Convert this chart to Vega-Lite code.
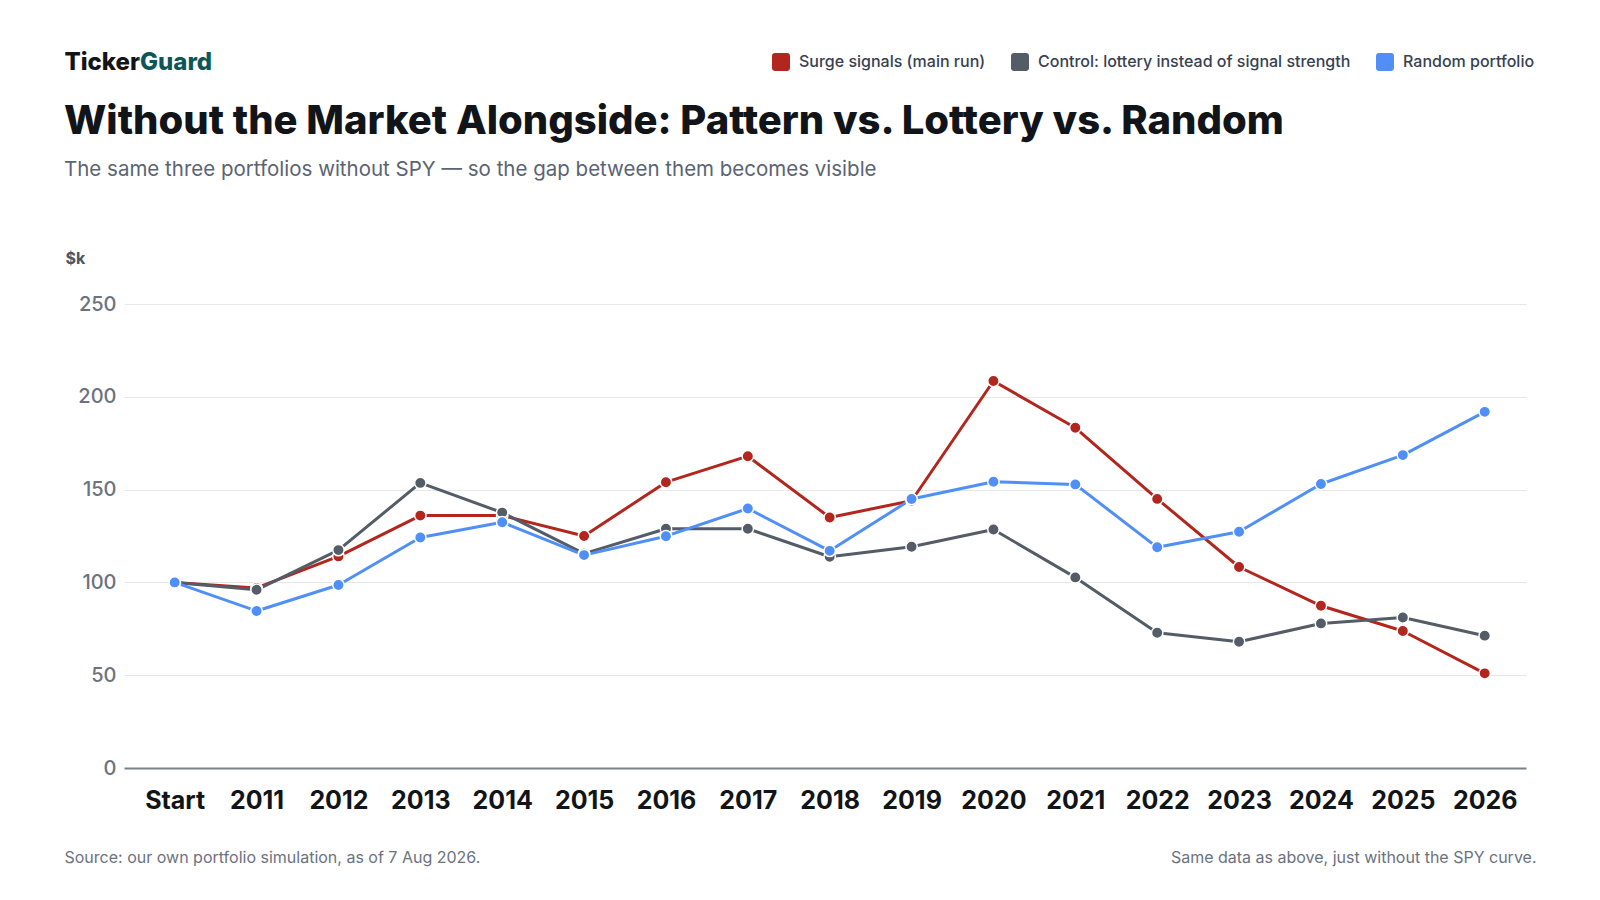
{
  "$schema": "https://vega.github.io/schema/vega-lite/v6.json",
  "width": 1402,
  "height": 464,
  "autosize": {"type": "none"},
  "padding": {"left": 124, "top": 304, "right": 74, "bottom": 132},
  "background": "white",
  "title": {
    "text": "Without the Market Alongside: Pattern vs. Lottery vs. Random",
    "subtitle": "The same three portfolios without SPY — so the gap between them becomes visible",
    "anchor": "start",
    "frame": "group",
    "dx": -60,
    "offset": -130,
    "font": "Inter",
    "fontSize": 40,
    "fontWeight": 800,
    "color": "#111418",
    "subtitleFont": "Inter",
    "subtitleFontSize": 20.5,
    "subtitleColor": "#5b6472",
    "subtitlePadding": 18
  },
  "data": {
    "values": [
      {"period": "Start", "series": "Surge signals (main run)", "value": 100},
      {"period": "2011", "series": "Surge signals (main run)", "value": 97},
      {"period": "2012", "series": "Surge signals (main run)", "value": 114},
      {"period": "2013", "series": "Surge signals (main run)", "value": 136},
      {"period": "2014", "series": "Surge signals (main run)", "value": 136},
      {"period": "2015", "series": "Surge signals (main run)", "value": 125},
      {"period": "2016", "series": "Surge signals (main run)", "value": 154},
      {"period": "2017", "series": "Surge signals (main run)", "value": 168},
      {"period": "2018", "series": "Surge signals (main run)", "value": 135},
      {"period": "2019", "series": "Surge signals (main run)", "value": 144},
      {"period": "2020", "series": "Surge signals (main run)", "value": 208.5},
      {"period": "2021", "series": "Surge signals (main run)", "value": 183.3},
      {"period": "2022", "series": "Surge signals (main run)", "value": 145},
      {"period": "2023", "series": "Surge signals (main run)", "value": 108.3},
      {"period": "2024", "series": "Surge signals (main run)", "value": 87.4},
      {"period": "2025", "series": "Surge signals (main run)", "value": 73.8},
      {"period": "2026", "series": "Surge signals (main run)", "value": 51},
      {"period": "Start", "series": "Control: lottery instead of signal strength", "value": 100},
      {"period": "2011", "series": "Control: lottery instead of signal strength", "value": 96},
      {"period": "2012", "series": "Control: lottery instead of signal strength", "value": 117.4},
      {"period": "2013", "series": "Control: lottery instead of signal strength", "value": 153.6},
      {"period": "2014", "series": "Control: lottery instead of signal strength", "value": 137.6},
      {"period": "2015", "series": "Control: lottery instead of signal strength", "value": 115.5},
      {"period": "2016", "series": "Control: lottery instead of signal strength", "value": 128.9},
      {"period": "2017", "series": "Control: lottery instead of signal strength", "value": 128.9},
      {"period": "2018", "series": "Control: lottery instead of signal strength", "value": 113.8},
      {"period": "2019", "series": "Control: lottery instead of signal strength", "value": 119.2},
      {"period": "2020", "series": "Control: lottery instead of signal strength", "value": 128.5},
      {"period": "2021", "series": "Control: lottery instead of signal strength", "value": 102.7},
      {"period": "2022", "series": "Control: lottery instead of signal strength", "value": 72.9},
      {"period": "2023", "series": "Control: lottery instead of signal strength", "value": 68},
      {"period": "2024", "series": "Control: lottery instead of signal strength", "value": 77.9},
      {"period": "2025", "series": "Control: lottery instead of signal strength", "value": 81.1},
      {"period": "2026", "series": "Control: lottery instead of signal strength", "value": 71.3},
      {"period": "Start", "series": "Random portfolio", "value": 100},
      {"period": "2011", "series": "Random portfolio", "value": 84.6},
      {"period": "2012", "series": "Random portfolio", "value": 98.6},
      {"period": "2013", "series": "Random portfolio", "value": 124.2},
      {"period": "2014", "series": "Random portfolio", "value": 132.4},
      {"period": "2015", "series": "Random portfolio", "value": 114.7},
      {"period": "2016", "series": "Random portfolio", "value": 124.9},
      {"period": "2017", "series": "Random portfolio", "value": 139.8},
      {"period": "2018", "series": "Random portfolio", "value": 117},
      {"period": "2019", "series": "Random portfolio", "value": 144.9},
      {"period": "2020", "series": "Random portfolio", "value": 154.2},
      {"period": "2021", "series": "Random portfolio", "value": 152.8},
      {"period": "2022", "series": "Random portfolio", "value": 118.9},
      {"period": "2023", "series": "Random portfolio", "value": 127.3},
      {"period": "2024", "series": "Random portfolio", "value": 153},
      {"period": "2025", "series": "Random portfolio", "value": 168.6},
      {"period": "2026", "series": "Random portfolio", "value": 191.9}
    ]
  },
  "encoding": {
    "color": {
      "field": "series",
      "type": "nominal",
      "scale": {
        "domain": ["Surge signals (main run)", "Control: lottery instead of signal strength", "Random portfolio"],
        "range": ["#b3261e", "#535c67", "#4f8ff7"]
      },
      "legend": {
        "orient": "none",
        "legendX": 648,
        "legendY": -251,
        "direction": "horizontal",
        "title": null,
        "symbolType": "M -0.65,-1 H 0.65 Q 1,-1 1,-0.65 V 0.65 Q 1,1 0.65,1 H -0.65 Q -1,1 -1,0.65 V -0.65 Q -1,-1 -0.65,-1 Z",
        "symbolSize": 324,
        "symbolOpacity": 1,
        "labelFont": "Inter",
        "labelFontSize": 16,
        "labelFontWeight": 500,
        "labelColor": "#374151",
        "labelOffset": 9,
        "labelLimit": 0,
        "columnPadding": 25,
        "encode": {
          "symbols": {
            "update": {
              "fill": {"scale": "color", "field": "value"},
              "stroke": {"value": "transparent"},
              "strokeWidth": {"value": 0}
            }
          }
        }
      }
    }
  },
  "layer": [
    {
      "mark": {"type": "line", "strokeWidth": 3, "strokeJoin": "round"},
      "encoding": {
        "x": {
          "field": "period",
          "type": "ordinal",
          "sort": null,
          "scale": {"type": "point", "padding": 0.5618, "align": 0.551},
          "axis": {
            "orient": "bottom",
            "domain": false,
            "ticks": false,
            "grid": false,
            "labelAngle": 0,
            "labelFont": "Inter",
            "labelFontSize": 25,
            "labelFontWeight": 700,
            "labelColor": "#111418",
            "labelPadding": 20,
            "title": "Source: our own portfolio simulation, as of 7 Aug 2026.",
            "titleX": -60,
            "titleY": 89,
            "titleAlign": "left",
            "titleBaseline": "middle",
            "titleFont": "Inter",
            "titleFontSize": 16,
            "titleFontWeight": 400,
            "titleColor": "#6b7280"
          }
        },
        "y": {
          "field": "value",
          "type": "quantitative",
          "scale": {"domain": [0, 250]},
          "axis": {
            "orient": "left",
            "values": [0, 50, 100, 150, 200, 250],
            "domain": false,
            "ticks": false,
            "grid": true,
            "gridColor": {"condition": {"test": "datum.value === 0", "value": "#7a8088"}, "value": "#e6e7e9"},
            "gridWidth": {"condition": {"test": "datum.value === 0", "value": 2}, "value": 1},
            "labelFont": "Inter",
            "labelFontSize": 20,
            "labelFontWeight": 500,
            "labelColor": "#6b7280",
            "labelPadding": 8,
            "title": "$k",
            "titleAngle": 0,
            "titleX": -59,
            "titleY": -46,
            "titleAlign": "left",
            "titleBaseline": "middle",
            "titleFont": "Inter",
            "titleFontSize": 16,
            "titleFontWeight": 700,
            "titleColor": "#4b5563"
          }
        }
      }
    },
    {
      "mark": {"type": "point", "filled": true, "size": 130, "opacity": 1, "stroke": "white", "strokeWidth": 1.5},
      "encoding": {
        "x": {
          "field": "period",
          "type": "ordinal",
          "sort": null,
          "scale": {"type": "point", "padding": 0.5618, "align": 0.551},
          "axis": {
            "orient": "top",
            "domain": false,
            "ticks": false,
            "labels": false,
            "grid": false,
            "title": "TickerGuard",
            "titleX": -60,
            "titleY": -242,
            "titleAlign": "left",
            "titleBaseline": "middle",
            "titleFont": "Inter",
            "titleFontSize": 24,
            "titleFontWeight": 800,
            "titleColor": {"value": {"gradient": "linear", "x1": 0, "x2": 1, "y1": 0, "y2": 0, "stops": [
              {"offset": 0, "color": "#111418"},
              {"offset": 0.5, "color": "#111418"},
              {"offset": 0.5, "color": "#0e5558"},
              {"offset": 1, "color": "#0e5558"}
            ]}}
          }
        },
        "y": {
          "field": "value",
          "type": "quantitative",
          "scale": {"domain": [0, 250]},
          "axis": {
            "orient": "right",
            "domain": false,
            "ticks": false,
            "labels": false,
            "grid": false,
            "title": "Same data as above, just without the SPY curve.",
            "titleAngle": 0,
            "titleX": 10,
            "titleY": 553,
            "titleAlign": "right",
            "titleBaseline": "middle",
            "titleFont": "Inter",
            "titleFontSize": 16,
            "titleFontWeight": 400,
            "titleColor": "#6b7280"
          }
        }
      }
    }
  ],
  "resolve": {"scale": {"x": "independent", "y": "independent"}},
  "config": {
    "view": {"stroke": null},
    "font": "Inter"
  }
}
